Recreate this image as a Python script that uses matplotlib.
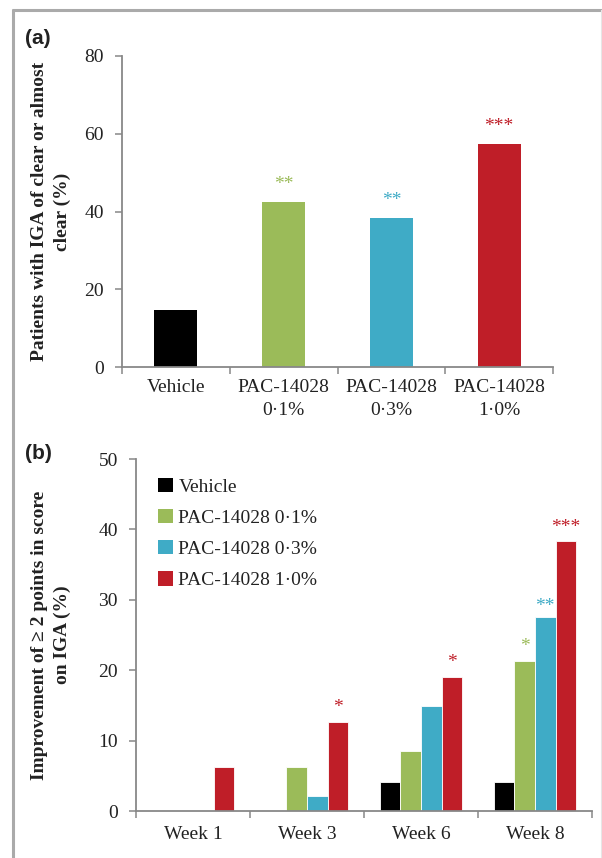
import matplotlib
matplotlib.use("Agg")
import matplotlib.pyplot as plt
import numpy as np
from matplotlib.lines import Line2D
from matplotlib.patches import Patch

# ---------------- data ----------------
groups_a = ["Vehicle", "PAC-14028\n0·1%", "PAC-14028\n0·3%", "PAC-14028\n1·0%"]
values_a = [14.6, 42.4, 38.3, 57.3]
stars_a = ["", "**", "**", "***"]

weeks = ["Week 1", "Week 3", "Week 6", "Week 8"]
series_names = ["Vehicle", "PAC-14028 0·1%", "PAC-14028 0·3%", "PAC-14028 1·0%"]
vehicle = [0, 0, 4.1, 4.1]
pac01 = [0, 6.3, 8.5, 21.3]
pac03 = [0, 2.1, 14.9, 27.6]
pac10 = [6.3, 12.7, 19.1, 38.3]
stars_b = [
    ["", "", "", ""],
    ["", "", "", "*"],
    ["", "", "", "*"],
    ["", "*", "**", "***"],
]  # per week, per series

colors = ["#000000", "#9BBB59", "#3FABC6", "#BF1E28"]

# ---------------- style ----------------
W, H = 602, 858
plt.rcParams["font.family"] = ["Liberation Serif", "DejaVu Serif"]
tick_fs = 14
spine_col = "#888888"
text_col = "#222222"

fig = plt.figure(figsize=(W / 100, H / 100), dpi=100)

def ax_rect(x0, x1, ytop, ybot):
    return [x0 / W, 1 - ybot / H, (x1 - x0) / W, (ybot - ytop) / H]

def style_axes(ax, xpad):
    for s in ["top", "right"]:
        ax.spines[s].set_visible(False)
    for s in ["left", "bottom"]:
        ax.spines[s].set_color(spine_col)
        ax.spines[s].set_linewidth(1.3)
    ax.tick_params(axis="y", direction="out", length=5, width=1.1,
                   color=spine_col, labelsize=tick_fs, labelcolor=text_col, pad=8)
    ax.tick_params(axis="x", which="major", length=0, labelsize=tick_fs,
                   labelcolor=text_col, pad=xpad)
    ax.tick_params(axis="x", which="minor", direction="out", length=5,
                   width=1.1, color=spine_col)

# ---------------- panel (a) ----------------
axa = fig.add_axes(ax_rect(122, 553, 56, 367))
xa = np.arange(len(groups_a))
axa.bar(xa, values_a, width=0.40, color=colors, zorder=2)
axa.set_xlim(-0.5, len(groups_a) - 0.5)
axa.set_ylim(0, 80)
axa.set_yticks([0, 20, 40, 60, 80])
axa.set_xticks(xa)
axa.set_xticklabels(groups_a, linespacing=1.4)
axa.set_xticks(np.arange(-0.5, len(groups_a)), minor=True)
style_axes(axa, 9)
for x, v, s, c in zip(xa, values_a, stars_a, colors):
    if s:
        axa.annotate(s, (x, v), xytext=(0, 9.5), textcoords="offset points",
                     ha="center", va="baseline", color=c, fontsize=14)
axa.set_ylabel("Patients with IGA of clear or almost\nclear (%)",
               fontsize=14, fontweight="bold", color=text_col, linespacing=1.45)
axa.yaxis.set_label_coords((71 - 122) / (553 - 122), 0.5)

# ---------------- panel (b) ----------------
axb = fig.add_axes(ax_rect(136, 592, 459, 811))
xb = np.arange(len(weeks))
bw = 0.18
series = [vehicle, pac01, pac03, pac10]
star_off = [7, 7, 4, 7]
for i, (vals, col) in enumerate(zip(series, colors)):
    pos = xb + (i - 1.5) * bw
    axb.bar(pos, vals, width=bw, color=col, edgecolor="white", linewidth=0.6, zorder=2)
    for j, (p, v) in enumerate(zip(pos, vals)):
        s = stars_b[j][i]
        if s:
            axb.annotate(s, (p, v), xytext=(0, star_off[i]), textcoords="offset points",
                         ha="center", va="baseline", color=col, fontsize=14)
axb.set_xlim(-0.5, len(weeks) - 0.5)
axb.set_ylim(0, 50)
axb.set_yticks([0, 10, 20, 30, 40, 50])
axb.set_xticks(xb)
axb.set_xticklabels(weeks)
axb.set_xticks(np.arange(-0.5, len(weeks)), minor=True)
style_axes(axb, 11)
axb.set_ylabel("Improvement of ≥ 2 points in score\non IGA (%)",
               fontsize=14, fontweight="bold", color=text_col, linespacing=1.45)
axb.yaxis.set_label_coords((71 - 136) / (592 - 136), 0.5)

handles = [Patch(facecolor=c, edgecolor="none") for c in colors]
axb.legend(handles, series_names, loc="upper left",
           bbox_to_anchor=(158 / W, 1 - 478 / H), bbox_transform=fig.transFigure,
           frameon=False, fontsize=14, handlelength=0.75, handleheight=0.75,
           handletextpad=0.3, labelspacing=0.68, borderpad=0, borderaxespad=0,
           labelcolor=text_col)

# ---------------- panel letters ----------------
fig.text(25 / W, 1 - 38 / H, "(a)", fontsize=15, fontweight="bold",
         family=["Liberation Sans", "DejaVu Sans"], va="center", ha="left", color=text_col)
fig.text(25 / W, 1 - 453 / H, "(b)", fontsize=15, fontweight="bold",
         family=["Liberation Sans", "DejaVu Sans"], va="center", ha="left", color=text_col)

# ---------------- frame ----------------
fig.add_artist(Line2D([13 / W, 13 / W], [0, 1 - 9 / H], transform=fig.transFigure,
                      color="#aaaaaa", lw=2.2, solid_capstyle="butt"))
fig.add_artist(Line2D([12 / W, 1], [1 - 10 / H, 1 - 10 / H], transform=fig.transFigure,
                      color="#aaaaaa", lw=2.2, solid_capstyle="butt"))
fig.add_artist(Line2D([601 / W, 601 / W], [0, 1 - 10 / H], transform=fig.transFigure,
                      color="#e6e6e6", lw=0.8))

fig.savefig("out.png", dpi=100)
